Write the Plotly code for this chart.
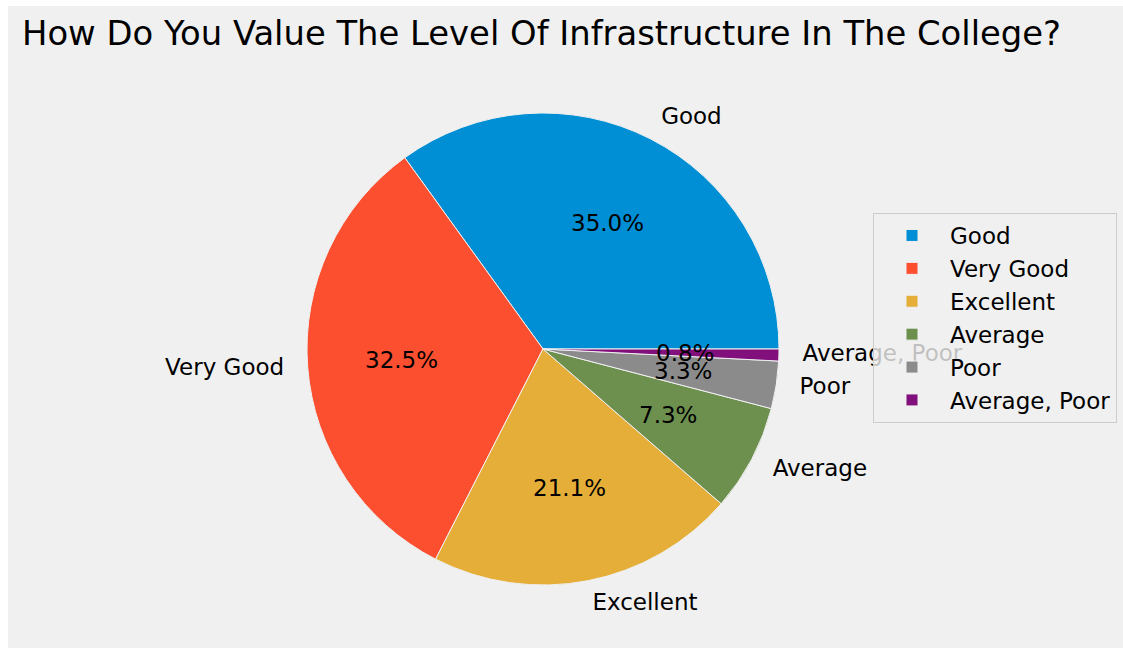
import math
import plotly.graph_objects as go

# survey answers (counts read from the percentages, n = 123)
labels = ["Good", "Very Good", "Excellent", "Average", "Poor", "Average, Poor"]
counts = [43, 40, 26, 9, 4, 1]
colors = ["#008fd5", "#fc4f30", "#e5ae38", "#6d904f", "#8b8b8b", "#810f7c"]
title = "How Do You Value The Level Of Infrastructure In The College?"

W, H = 1115, 642
# pie placement in figure pixels
cx, cy, r = 535, 343, 236

total = sum(counts)

fig = go.Figure()

# outside labels as a text trace so the legend box sits above them
lab_x, lab_y, lab_pos = [], [], []
pct_ann = []
start = 0.0
for val in counts:
    span = 360.0 * val / total
    mid = math.radians(start + span / 2)
    start += span
    c, s = math.cos(mid), math.sin(mid)
    lab_x.append(cx + 1.1 * r * c)
    lab_y.append(cy - 1.1 * r * s)
    lab_pos.append("middle right" if c > 0 else "middle left")
    pct_ann.append(dict(
        x=(cx + 0.6 * r * c) / W, y=1 - (cy - 0.6 * r * s) / H,
        xref="paper", yref="paper",
        text=f"{100 * val / total:.1f}%", showarrow=False,
        xanchor="center", yanchor="middle",
        font=dict(size=23, color="#000000"),
    ))

fig.add_trace(go.Scatter(
    x=lab_x, y=lab_y, mode="text", text=labels, textposition=lab_pos,
    textfont=dict(size=23, color="#000000"),
    showlegend=False, hoverinfo="skip",
))

fig.add_trace(go.Pie(
    labels=labels,
    values=counts,
    sort=False,
    direction="counterclockwise",
    # first wedge starts at 3 o'clock like matplotlib's startangle=0
    rotation=90 - 360.0 * counts[0] / total,
    marker=dict(colors=colors, line=dict(color="#f0f0f0", width=1)),
    textinfo="none",
    hoverinfo="label+percent",
    domain=dict(x=[(cx - r) / W, (cx + r) / W], y=[(H - cy - r) / H, (H - cy + r) / H]),
))

fig.update_layout(
    width=W, height=H,
    margin=dict(l=0, r=0, t=0, b=0),
    paper_bgcolor="#f0f0f0",
    plot_bgcolor="rgba(0,0,0,0)",
    font=dict(family="DejaVu Sans", color="#000000"),
    title=dict(text=title, x=14 / W, y=1 - 27 / H, xanchor="left", yanchor="middle",
               font=dict(size=33.8, color="#000000")),
    xaxis=dict(visible=False, range=[0, W], domain=[0, 1], fixedrange=True),
    yaxis=dict(visible=False, range=[H, 0], domain=[0, 1], fixedrange=True),
    annotations=pct_ann,
    legend=dict(
        x=865 / W, y=1 - 207 / H, xanchor="left", yanchor="top",
        bgcolor="rgba(240,240,240,0.8)", bordercolor="#cccccc", borderwidth=1,
        font=dict(size=23, color="#000000"),
        itemwidth=66,
    ),
    showlegend=True,
)

fig.write_html(
    "out.html",
    post_script="document.body.style.margin='6px 0 0 8px';document.body.style.overflow='hidden';",
)
